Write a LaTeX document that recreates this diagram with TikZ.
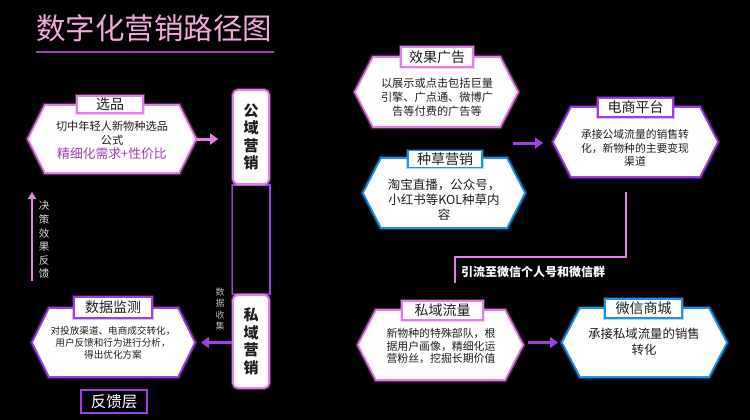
\documentclass[tikz,border=0pt]{standalone}
\usepackage{fontspec}
\newfontfamily\cjk{Noto Sans CJK SC}
\usetikzlibrary{arrows.meta,calc}
\pgfdeclarelayer{back}
\pgfdeclarelayer{bg}
\pgfsetlayers{back,bg,main}
\definecolor{cpink}{HTML}{E67EE8}
\definecolor{cpurple}{HTML}{9B40E6}
\definecolor{cblue}{HTML}{2193E6}
\definecolor{ctitle}{HTML}{F2A8DA}
\definecolor{ctext}{HTML}{1E1E1E}
\definecolor{cacc}{HTML}{A040B0}
\definecolor{cgray}{HTML}{DADADA}
\newcommand{\hexshape}[3]{%
  \begin{pgfonlayer}{bg}
  \path[fill=white, draw=#2, line width=1.7pt, line join=miter,
        preaction={draw=#2, line width=4.5pt, opacity=.35}]
    (#1.west) -- ([xshift=#3]#1.north west) -- ([xshift=-#3]#1.north east)
    -- (#1.east) -- ([xshift=-#3]#1.south east) -- ([xshift=#3]#1.south west) -- cycle;
  \end{pgfonlayer}}
\begin{document}
\begin{tikzpicture}[x=1pt,y=-1pt,
  hexnode/.style={inner sep=0pt, outer sep=0pt},
  tabbox/.style={draw=#1, fill=white, line width=1.6pt, inner sep=0pt,
    preaction={draw=#1, line width=3.5pt, opacity=.35},
    font=\cjk\fontsize{14}{16}\selectfont, text=ctext},
  bodytext/.style={align=center, text=ctext, inner sep=0pt},
  vbox/.style={draw=cpink, fill=white, line width=1.8pt, rounded corners=5pt,
    preaction={draw=cpink, line width=4pt, opacity=.35},
    minimum width=36pt, inner sep=0pt, align=center, text=ctext,
    font=\cjk\bfseries\fontsize{15}{17.5}\selectfont},
  parrow/.style={draw=#1, line width=3pt, -{Triangle[length=8pt,width=11pt]}},
  vlabel/.style={align=center, text=cgray, inner sep=0pt}
]
\begin{pgfonlayer}{back}
\fill[black] (0,0) rectangle (750,420);
\end{pgfonlayer}
\useasboundingbox (0,0) rectangle (750,420);

% title
\node[anchor=west, inner sep=0pt, text=ctitle, font=\cjk\fontsize{29.5}{32}\selectfont] (title) at (36,28) {数字化营销路径图};
\draw[cacc, line width=2pt] ([yshift=-10pt]title.south west) -- ([yshift=-10pt,xshift=2pt]title.south east);

% 选品
\node[hexnode, minimum width=168pt, minimum height=68pt] (xp) at (112,139) {};
\hexshape{xp}{cpink}{17pt}
\node[tabbox=cpink, minimum width=66pt, minimum height=17pt] (xpt) at (110,104.5) {选品};
\node[bodytext, font=\cjk\fontsize{11.2}{14}\selectfont] (xptx) at (112,140) {切中年轻人新物种选品\\公式\\{\color{cacc}\fontsize{12.8}{15}\selectfont 精细化需求+性价比}};

% 公域营销 / 私域营销
\node[vbox, minimum height=94pt] (gy) at (251,137) {公\\域\\营\\销};
\node[vbox, minimum height=93pt] (sy) at (251,341.5) {私\\域\\营\\销};
\begin{pgfonlayer}{bg}
\draw[cpurple, line width=1.2pt, preaction={draw=cpink, line width=2.5pt, opacity=.35}] (gy.south west) rectangle (sy.north east);
\end{pgfonlayer}

% 数据监测
\node[hexnode, minimum width=163pt, minimum height=69pt] (sj) at (113.5,342.5) {};
\hexshape{sj}{cpurple}{17pt}
\node[tabbox=cpurple, minimum width=78pt, minimum height=21pt] (sjt) at (113,307.5) {数据监测};
\node[bodytext, font=\cjk\fontsize{9.6}{12}\selectfont] (sjtx) at (113,343) {对投放渠道、电商成交转化，\\用户反馈和行为进行分析，\\得出优化方案};

% 反馈层
\node[draw=cpurple, fill=black, line width=1.6pt, minimum width=66pt, minimum height=23pt, inner sep=0pt, text=white, font=\cjk\fontsize{15.5}{17}\selectfont] (fk) at (114,401.5) {反馈层};

% feedback arrow
\coordinate (fb1) at (32,281);
\coordinate (fb2) at (32,192);
\draw[cpink, line width=2pt, -{Triangle[length=7pt,width=8pt]}] (fb1) -- (fb2);
\node[vlabel, font=\cjk\fontsize{10.5}{13.6}\selectfont] (jc) at (44,240) {决\\策\\效\\果\\反\\馈};
\node[vlabel, font=\cjk\fontsize{9}{11.3}\selectfont, text=cgray!85!black] (sjsj) at (220,309) {数\\据\\收\\集};

\draw[parrow=cpink, shorten >=14pt] (xp.east) -- (xp.east -| gy.west);
\draw[parrow=cpurple, shorten >=6pt] (sy.west |- sj.east) -- (sj.east);

% 效果广告
\node[hexnode, minimum width=163pt, minimum height=70pt] (xg) at (436.5,92) {};
\hexshape{xg}{cpink}{18pt}
\node[tabbox=cpink, minimum width=72pt, minimum height=20pt] (xgt) at (437,57) {效果广告};
\node[bodytext, font=\cjk\fontsize{11.2}{14}\selectfont] (xgtx) at (437,97) {以展示或点击包括巨量\\引擎、广点通、微博广\\告等付费的广告等};

% 种草营销
\node[hexnode, minimum width=162pt, minimum height=70pt] (zc) at (444,193) {};
\hexshape{zc}{cblue}{18pt}
\node[tabbox=cblue, minimum width=74pt, minimum height=17pt] (zct) at (445,159) {种草营销};
\node[bodytext, font=\cjk\fontsize{12.5}{15}\selectfont] (zctx) at (444,200) {淘宝直播，公众号，\\小红书等KOL种草内\\容};

% 电商平台
\node[hexnode, minimum width=165pt, minimum height=70pt] (ds) at (635.5,142) {};
\hexshape{ds}{cpurple}{18pt}
\node[tabbox=cpurple, minimum width=75pt, minimum height=19pt] (dst) at (635.5,107.5) {电商平台};
\node[bodytext, font=\cjk\fontsize{10.8}{13.8}\selectfont] (dstx) at (635,148) {承接公域流量的销售转\\化，新物种的主要变现\\渠道};

\coordinate (mid) at (513,143);
\draw[parrow=cpurple, shorten >=10pt] (mid) -- (mid -| ds.west);

% flow to private
\coordinate (bend1) at (626,257);
\coordinate (bend2) at (455,257);
\coordinate (lend) at (455,283);
\draw[cpink, line width=2pt, shorten <=15pt] (bend1 |- ds.south) -- (bend1) -- (bend2) -- (lend);
\node[anchor=west, inner sep=0pt, text=white, font=\cjk\bfseries\fontsize{12}{14}\selectfont] (yl) at (461,272) {引流至微信个人号和微信群};

% 私域流量
\node[hexnode, minimum width=165pt, minimum height=70pt] (sl) at (440.5,345) {};
\hexshape{sl}{cpink}{18pt}
\node[tabbox=cpink, minimum width=81pt, minimum height=19pt] (slt) at (442.5,310.5) {私域流量};
\node[bodytext, font=\cjk\fontsize{10.9}{12.8}\selectfont] (sltx) at (441,346) {新物种的特殊部队，根\\据用户画像，精细化运\\营粉丝，挖掘长期价值};

% 微信商城
\node[hexnode, minimum width=165pt, minimum height=69pt] (wx) at (644.5,342.5) {};
\hexshape{wx}{cblue}{18pt}
\node[tabbox=cblue, minimum width=77pt, minimum height=19pt] (wxt) at (643.5,308.5) {微信商城};
\node[bodytext, font=\cjk\fontsize{12.4}{15.5}\selectfont] (wxtx) at (644,342) {承接私域流量的销售\\转化};

\draw[parrow=cpurple, shorten <=5pt, shorten >=4pt] (sl.east |- wx.west) -- (wx.west);
\end{tikzpicture}
\end{document}
